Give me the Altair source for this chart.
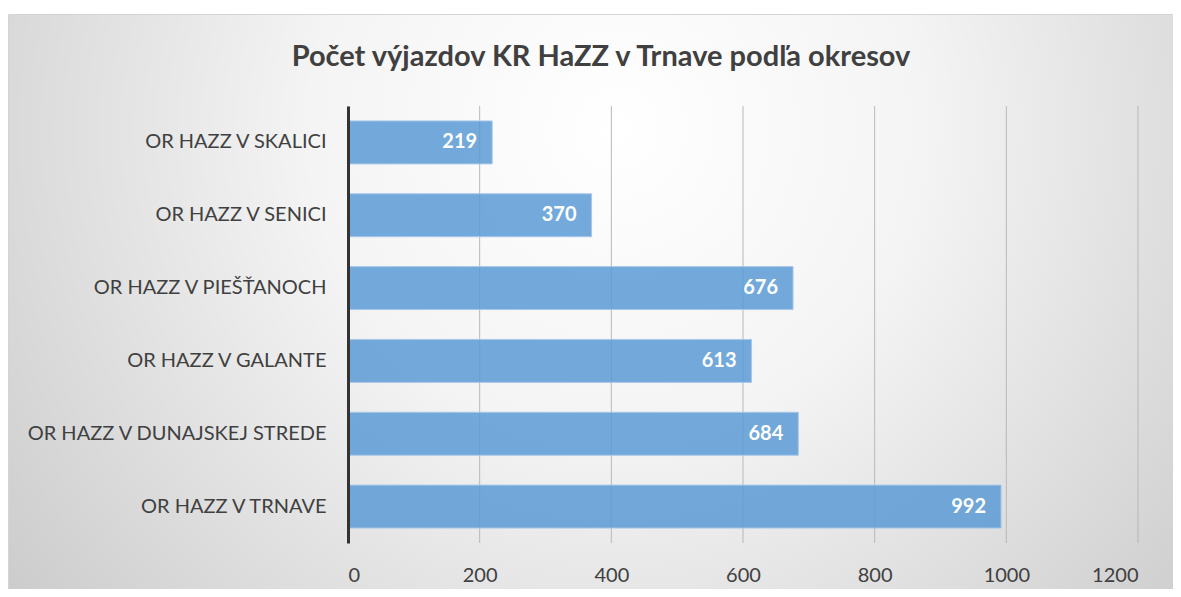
import altair as alt
import pandas as pd

categories = [
    "OR HAZZ V SKALICI",
    "OR HAZZ V SENICI",
    "OR HAZZ V PIEŠŤANOCH",
    "OR HAZZ V GALANTE",
    "OR HAZZ V DUNAJSKEJ STREDE",
    "OR HAZZ V TRNAVE",
]
values = [219, 370, 676, 613, 684, 992]
x_ticks = [0, 200, 400, 600, 800, 1000, 1200]
title_text = "Počet výjazdov KR HaZZ v Trnave podľa okresov"

df = pd.DataFrame({"okres": categories, "pocet": values})
ticks_df = pd.DataFrame({"pocet": x_ticks})
title_df = pd.DataFrame({"title": [title_text]})

FONT = "Lato"
W, H = 790, 437
PAD = {"left": 340, "top": 98, "right": 35, "bottom": 46}

x_scale = alt.Scale(domain=[0, 1200], nice=False)
x_axis = alt.Axis(
    values=x_ticks,
    format="d",
    labelFont=FONT,
    labelFontSize=20,
    labelColor="#404040",
    labelPadding=22,
    ticks=False,
    domain=False,
    grid=False,
    zindex=1,
)

bg = alt.Chart(pd.DataFrame({"a": [0]})).mark_rect(
    fill=alt.RadialGradient(
        gradient="radial",
        x1=0.52, y1=0.35, r1=0.0,
        x2=0.52, y2=0.35, r2=0.75,
        stops=[
            alt.GradientStop(offset=0.0, color="#ffffff"),
            alt.GradientStop(offset=0.35, color="#f4f4f4"),
            alt.GradientStop(offset=1.0, color="#c2c2c2"),
        ],
    ),
    stroke="#d4d4d4",
    strokeWidth=1,
).encode(
    x=alt.value(-PAD["left"] + 0.5),
    x2=alt.value(W + PAD["right"] + 5),
    y=alt.value(-PAD["top"] + 6.5),
    y2=alt.value(H + PAD["bottom"] + 5),
)

grid = alt.Chart(ticks_df).mark_rule(color="#b8b8b8", strokeWidth=1).encode(
    x=alt.X("pocet:Q", scale=x_scale, axis=x_axis, title=None)
)

base = alt.Chart(df).encode(
    y=alt.Y(
        "okres:N",
        sort=categories,
        title=None,
        scale=alt.Scale(paddingInner=0.41, paddingOuter=0.205),
        axis=alt.Axis(
            labelFont=FONT,
            labelFontSize=20,
            labelColor="#404040",
            labelPadding=22,
            ticks=False,
            domainColor="#333333",
            domainWidth=3,
            grid=False,
            labelLimit=400,
            zindex=1,
        ),
    ),
    x=alt.X("pocet:Q", title=None, scale=x_scale, axis=x_axis),
)

bars = base.mark_bar(
    color="#5b9bd5",
    fillOpacity=0.85,
    stroke="#a8c8ea",
    strokeWidth=1,
)

labels = base.mark_text(
    align="right",
    baseline="middle",
    dx=-15,
    font=FONT,
    fontSize=20,
    fontWeight="bold",
    color="#ffffff",
).encode(text="pocet:Q")

title = alt.Chart(title_df).mark_text(
    align="center",
    baseline="alphabetic",
    font=FONT,
    fontSize=29,
    fontWeight="bold",
    color="#404040",
).encode(
    text="title:N",
    x=alt.value(601 - 348),
    y=alt.value(66 - 106),
)

chart = alt.layer(bg, grid, bars, labels, title).properties(
    width=W,
    height=H,
    padding=PAD,
    autosize=alt.AutoSizeParams(type="none"),
).configure_view(stroke=None).configure(background="#ffffff")

chart.save("out.html", embed_options={"renderer": "svg", "actions": False})
